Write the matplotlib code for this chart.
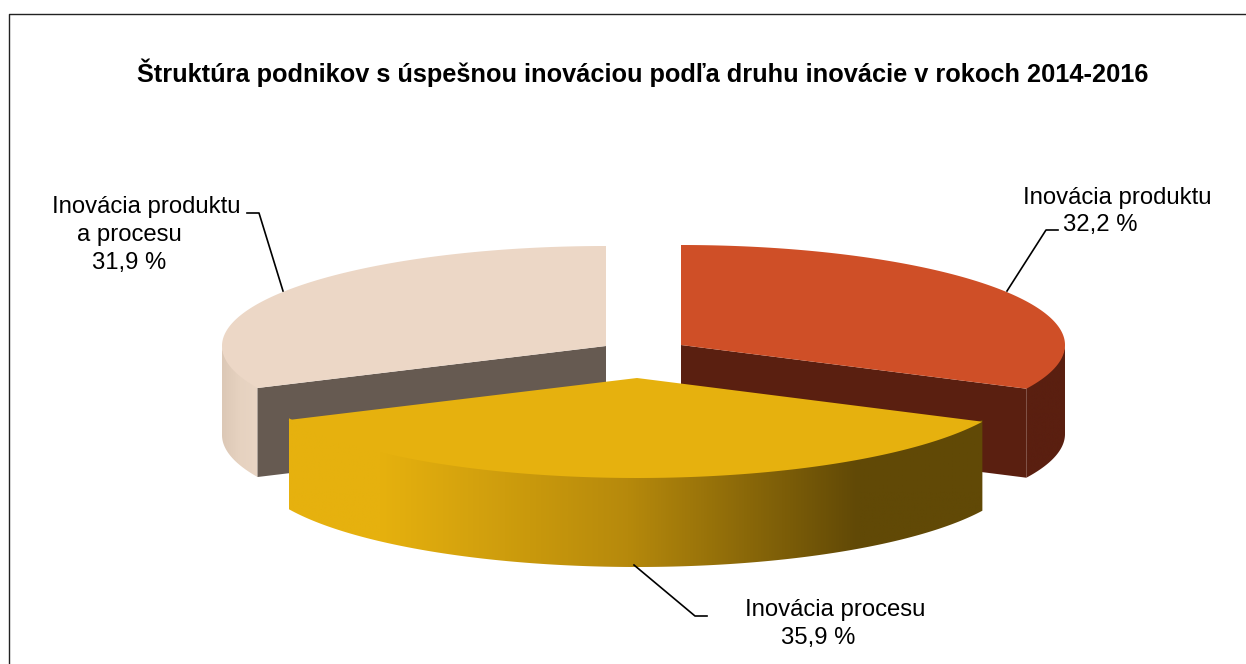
"""Exploded 3D-look pie: structure of firms with successful innovation, 2014-2016."""

import matplotlib

matplotlib.use("Agg")
import matplotlib.pyplot as plt
import numpy as np
from matplotlib.colors import LinearSegmentedColormap
from matplotlib.patches import Polygon

TITLE = "Štruktúra podnikov s úspešnou inováciou podľa druhu inovácie v rokoch 2014-2016"

# slices, clockwise from 12 o'clock
NAMES = [["Inovácia produktu"], ["Inovácia procesu"], ["Inovácia produktu", "a procesu"]]
SHARES = [32.2, 35.9, 31.9]

# pie geometry in pixels
CENTERS = [(681, 345), (637, 378), (606, 346)]
RX, RY = 384, 100
DEPTH = 89

TOP_COLORS = ["#CF4F27", "#E6B10E", "#ECD7C6"]
FACE_COLORS = ["#5A1F10", None, "#665A51"]
WALL_STOPS = [
    [(0.0, "#5A1F10"), (1.0, "#5A1F10")],
    [(0.0, "#E6B10E"), (0.13, "#E6B10E"), (0.49, "#B6890C"), (0.82, "#614906"), (1.0, "#614906")],
    [(0.0, "#DCC8B6"), (0.5, "#E6D2C0"), (1.0, "#E9D5C4")],
]
WALL_Z = {2: 1, 0: 3, 1: 5}
FACE_Z = {2: 2, 0: 4, 1: 6}

plt.rcParams["font.family"] = ["Liberation Sans", "DejaVu Sans"]

fig = plt.figure(figsize=(12.46, 6.64), dpi=100)
ax = fig.add_axes([0, 0, 1, 1])


def rim(center, angles):
    return np.column_stack([center[0] + RX * np.sin(angles), center[1] - RY * np.cos(angles)])


edges = np.radians(np.cumsum([0] + SHARES) / sum(SHARES) * 360)

# back to front, so the front slice covers the cut faces behind it
for i in [2, 0, 1]:
    c = np.array(CENTERS[i], dtype=float)
    a0, a1 = edges[i], edges[i + 1]
    drop = np.array([0, DEPTH])

    # outer wall, only the part turned towards the viewer
    # upper edge runs 2px under the top surface so nothing shows through its antialiasing
    lo, hi = max(a0, np.pi / 2), min(a1, 3 * np.pi / 2)
    arc = rim(c, np.linspace(lo, hi, 200))
    wall = Polygon(np.vstack([arc - [0, 2], arc[::-1] + drop]), closed=True, fc="none", ec="none")
    ax.add_patch(wall)
    cmap = LinearSegmentedColormap.from_list(f"wall{i}", WALL_STOPS[i])
    x0, x1 = arc[:, 0].min(), arc[:, 0].max()
    y0, y1 = arc[:, 1].min() - 2, arc[:, 1].max() + DEPTH
    im = ax.imshow(np.linspace(0, 1, 512)[None, :], cmap=cmap, extent=(x0, x1, y1, y0),
                   aspect="auto", zorder=WALL_Z[i])
    im.set_clip_path(wall)

    # cut face seen from the front
    if FACE_COLORS[i]:
        rim_pt = rim(c, np.array([a0 if i == 2 else a1]))[0]
        ax.add_patch(Polygon([c, rim_pt, rim_pt + drop, c + drop], closed=True,
                             fc=FACE_COLORS[i], ec="none", zorder=FACE_Z[i]))

    # top surface
    top = rim(c, np.linspace(a0, a1, 400))
    ax.add_patch(Polygon(np.vstack([c, top]), closed=True, fc=TOP_COLORS[i],
                         ec="none", zorder=FACE_Z[i] + 0.5))

# chart frame, cut off by the right and bottom image edges
ax.plot([9, 9, 1246], [664, 14, 14], color="#222222", lw=1.0, zorder=7)

# leader lines
ax.plot([1007, 1046, 1058], [291, 230, 230], color="black", lw=1.2, zorder=7)
ax.plot([634, 695, 707], [565, 616, 616], color="black", lw=1.2, zorder=7)
ax.plot([283, 259, 247], [291, 213, 213], color="black", lw=1.2, zorder=7)

ax.text(643, 73, TITLE, ha="center", va="center", fontsize=18.3, fontweight="bold", zorder=8)


def pct(v):
    return f"{v:.1f} %".replace(".", ",")


# slice labels: the upper lines sit off-centre from the lower ones as in the source
LABEL_SIZE = 17.2
ax.text(1117, 198, NAMES[0][0], ha="center", va="center", fontsize=LABEL_SIZE, zorder=8)
ax.text(1100, 225, pct(SHARES[0]), ha="center", va="center", fontsize=LABEL_SIZE, zorder=8)
ax.text(835, 610, NAMES[1][0], ha="center", va="center", fontsize=LABEL_SIZE, zorder=8)
ax.text(818, 638, pct(SHARES[1]), ha="center", va="center", fontsize=LABEL_SIZE, zorder=8)
ax.text(146, 207, NAMES[2][0], ha="center", va="center", fontsize=LABEL_SIZE, zorder=8)
ax.text(129, 235, NAMES[2][1], ha="center", va="center", fontsize=LABEL_SIZE, zorder=8)
ax.text(129, 263, pct(SHARES[2]), ha="center", va="center", fontsize=LABEL_SIZE, zorder=8)

ax.set_xlim(0, 1246)
ax.set_ylim(664, 0)
ax.axis("off")

fig.savefig("out.png", dpi=100)
plt.close(fig)
